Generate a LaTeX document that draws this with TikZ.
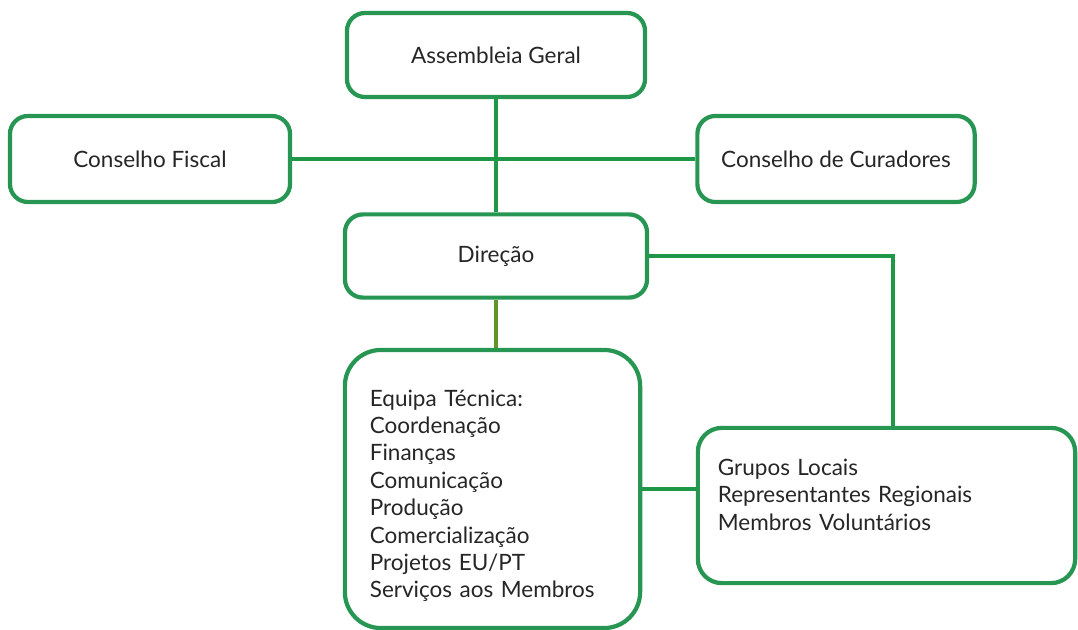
\documentclass[tikz,border=0pt]{standalone}
\usepackage{fontspec}
\setmainfont{Lato}
\usepackage{tikz}

\definecolor{boxgreen}{RGB}{38,150,82}
\definecolor{linegreen}{RGB}{30,152,70}
\definecolor{olivegreen}{RGB}{96,150,40}

\begin{document}
\begin{tikzpicture}[x=0.025cm, y=-0.025cm,
	orgbox/.style={draw=boxgreen, line width=3pt, rounded corners=0.45cm, fill=white,
		font=\fontsize{16}{19.5}\selectfont, text=black!85},
	orgline/.style={draw=linegreen, line width=2.6pt}]

\useasboundingbox (0,0) rectangle (1078,630);

\begin{scope}[every node/.style={orgbox}]
	%Level 1
	\node[minimum width=7.45cm, minimum height=2.1cm] (assembleia) at (496, 55) {Assembleia Geral};
	
	%Level 2
	\node[minimum width=7.0cm, minimum height=2.15cm] (fiscal) at (150, 159) {Conselho Fiscal};
	\node[minimum width=6.93cm, minimum height=2.15cm] (curadores) at (836, 159) {Conselho de Curadores};
	
	%Level 3
	\node[minimum width=7.55cm, minimum height=2.08cm] (direcao) at (496, 256) {Dire\c{c}\~ao};
	
	%Level 4
	\node[rounded corners=0.9cm, minimum height=6.95cm, inner xsep=0.625cm, text width=6.13cm, align=left] (equipa) at (492.5, 489)
		{\rule{0pt}{0.75cm}Equipa T\'ecnica:\\ Coordena\c{c}\~ao\\ Finan\c{c}as\\ Comunica\c{c}\~ao\\ Produ\c{c}\~ao\\ Comercializa\c{c}\~ao\\ Projetos EU/PT\\ Servi\c{c}os aos Membros};
	\node[rounded corners=0.6cm, minimum height=3.88cm, inner xsep=0.5cm, text width=8.43cm, align=left] (grupos) at (886.5, 505.5)
		{Grupos Locais\\ Representantes Regionais\\ Membros Volunt\'arios\rule[-0.55cm]{0pt}{0pt}};
\end{scope}

\begin{scope}[on background layer/.try]
	%Level 1 to 3
	\path [orgline] (assembleia) edge (direcao);
	\path [orgline] (fiscal.east) edge (curadores.west);
	
	%Level 3 to 4
	\draw [orgline] (direcao.east) -| ([xshift=0.16cm]grupos.north);
	\path [orgline, draw=olivegreen] (direcao.south) edge (direcao.south |- equipa.north);
	\path [orgline] (equipa.east) edge (equipa.east -| grupos.west);
\end{scope}

\end{tikzpicture}
\end{document}
